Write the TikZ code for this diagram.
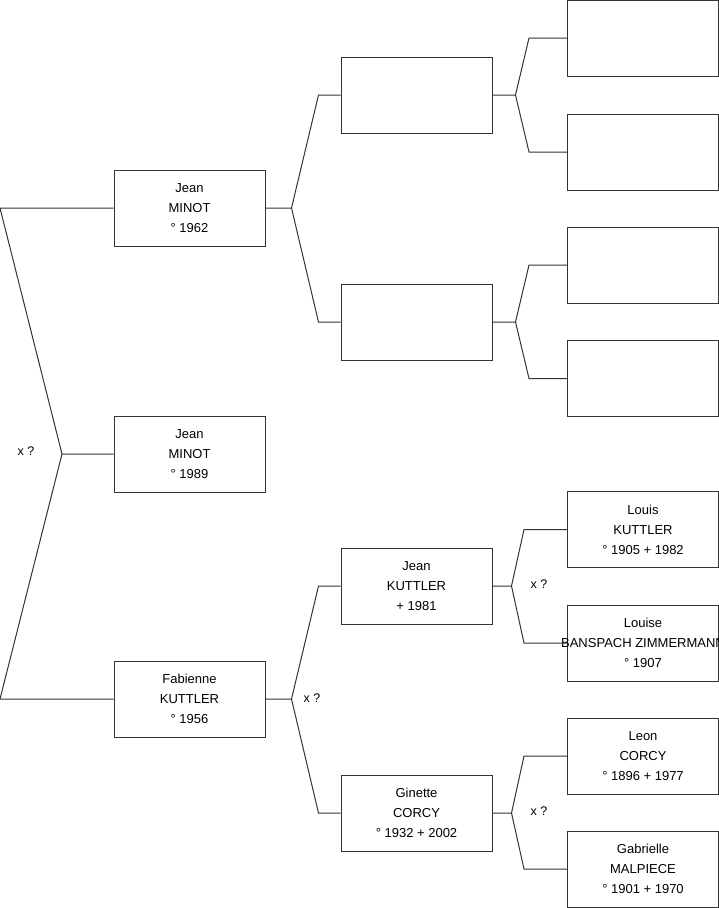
\documentclass[tikz,border=0pt]{standalone}
\usepackage{fontspec}
\setmainfont{Liberation Sans}
\usetikzlibrary{calc}
\definecolor{linecol}{HTML}{333333}
\begin{document}
\begin{tikzpicture}[x=1pt,y=-1pt,
  person/.style={draw=linecol, line width=1pt, minimum width=151pt, minimum height=76pt,
    inner sep=0pt, align=center, font=\fontsize{13}{20}\selectfont},
  link/.style={draw=linecol, line width=1pt},
  union/.style={font=\fontsize{12.5}{14}\selectfont, inner sep=0pt}]
\useasboundingbox (0,0) rectangle (719,908);
% generation 1
\node[person] (f) at (189.5,208) {Jean\\MINOT\\° 1962};
\node[person] (c) at (189.5,454) {Jean\\MINOT\\° 1989};
\node[person] (m) at (189.5,699) {Fabienne\\KUTTLER\\° 1956};
% generation 2
\node[person] (ff) at (416.5,95) {};
\node[person] (fm) at (416.5,322) {};
\node[person] (mf) at (416.5,586) {Jean\\KUTTLER\\+ 1981};
\node[person] (mm) at (416.5,813) {Ginette\\CORCY\\° 1932 + 2002};
% generation 3
\node[person] (fff) at (643,38) {};
\node[person] (ffm) at (643,152) {};
\node[person] (fmf) at (643,265) {};
\node[person] (fmm) at (643,378.5) {};
\node[person] (mff) at (643,529.5) {Louis\\KUTTLER\\° 1905 + 1982};
\node[person] (mfm) at (643,643) {Louise\\\makebox[0pt]{BANSPACH ZIMMERMANN}\\° 1907};
\node[person] (mmf) at (643,756) {Leon\\CORCY\\° 1896 + 1977};
\node[person] (mmm) at (643,869) {Gabrielle\\MALPIECE\\° 1901 + 1970};
% connectors: child to parents
\coordinate (j0) at (62,454);
\coordinate (k0a) at (0,208);
\coordinate (k0b) at (0,699);
\draw[link] (f.west) -- (k0a) -- (j0) -- (c.west);
\draw[link] (m.west) -- (k0b) -- (j0);
% father line
\coordinate (j1) at ($(f.east)+(26,0)$);
\draw[link] (ff.west) -- ($(ff.west)+(-22,0)$) -- (j1) -- (f.east);
\draw[link] (fm.west) -- ($(fm.west)+(-22,0)$) -- (j1);
% mother line
\coordinate (j2) at ($(m.east)+(26,0)$);
\draw[link] (mf.west) -- ($(mf.west)+(-22,0)$) -- (j2) -- (m.east);
\draw[link] (mm.west) -- ($(mm.west)+(-22,0)$) -- (j2);
% generation 2 to 3
\coordinate (j3) at ($(ff.east)+(23,0)$);
\draw[link] (fff.west) -- ($(fff.west)+(-38,0)$) -- (j3) -- (ff.east);
\draw[link] (ffm.west) -- ($(ffm.west)+(-38,0)$) -- (j3);
\coordinate (j4) at ($(fm.east)+(23,0)$);
\draw[link] (fmf.west) -- ($(fmf.west)+(-38,0)$) -- (j4) -- (fm.east);
\draw[link] (fmm.west) -- ($(fmm.west)+(-38,0)$) -- (j4);
\coordinate (j5) at ($(mf.east)+(19,0)$);
\draw[link] (mff.west) -- ($(mff.west)+(-43,0)$) -- (j5) -- (mf.east);
\draw[link] (mfm.west) -- ($(mfm.west)+(-43,0)$) -- (j5);
\coordinate (j6) at ($(mm.east)+(19,0)$);
\draw[link] (mmf.west) -- ($(mmf.west)+(-43,0)$) -- (j6) -- (mm.east);
\draw[link] (mmm.west) -- ($(mmm.west)+(-43,0)$) -- (j6);
% union marks
\node[union] (u0) at (26,451) {x ?};
\node[union] (u1) at (312,698) {x ?};
\node[union] (u2) at (539,584) {x ?};
\node[union] (u3) at (539,811) {x ?};
\end{tikzpicture}
\end{document}
